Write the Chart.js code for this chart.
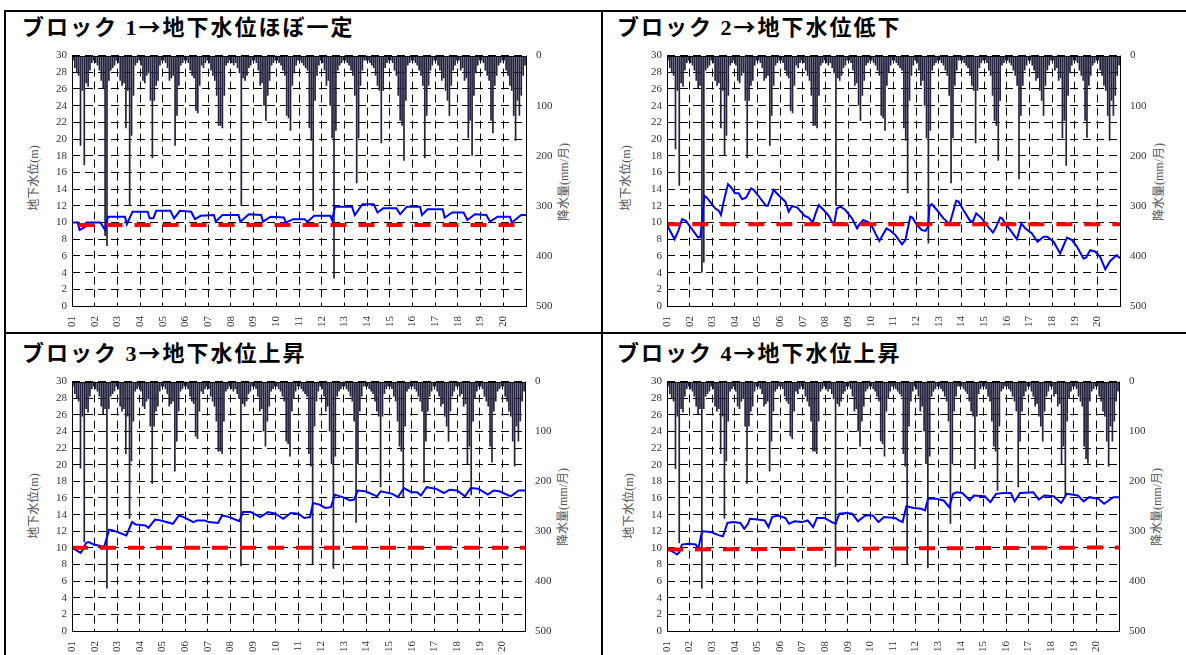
<!DOCTYPE html>
<html>
<head>
<meta charset="utf-8">
<script src="https://cdn.jsdelivr.net/npm/chart.js@4.4.1/dist/chart.umd.min.js"></script>
<style>
  html, body { margin: 0; padding: 0; background: #fff; }
  body { width: 1186px; height: 655px; position: relative; overflow: hidden; }
  .frame { position: absolute; background: #000; }
  .title {
    position: absolute; font-family: "Liberation Serif", "Noto Sans CJK JP", serif;
    font-weight: bold; font-size: 22px; line-height: 22px; letter-spacing: 2px; color: #000; white-space: nowrap;
  }
  .title .ar { font-family: "Noto Sans CJK JP", sans-serif; }
  .ytitle {
    position: absolute; transform: translate(-50%, -50%) rotate(-90deg);
    font-family: "Liberation Serif", "Noto Sans CJK JP", serif; font-size: 12px; color: #555; white-space: nowrap;
  }
  canvas { position: absolute; }
</style>
</head>
<body>

<div class="frame" style="left:4px; top:10px; width:1182px; height:2px;"></div>
<div class="frame" style="left:4px; top:10px; width:2px; height:645px;"></div>
<div class="frame" style="left:601px; top:10px; width:2px; height:645px;"></div>
<div class="frame" style="left:4px; top:332px; width:1182px; height:2px;"></div>

<div class="title" style="left:22px; top:14px;">ブロック 1<span class="ar">→</span>地下水位ほぼ一定</div>
<div class="title" style="left:617px; top:14px;">ブロック 2<span class="ar">→</span>地下水位低下</div>
<div class="title" style="left:22px; top:340px;">ブロック 3<span class="ar">→</span>地下水位上昇</div>
<div class="title" style="left:617px; top:340px;">ブロック 4<span class="ar">→</span>地下水位上昇</div>

<div class="ytitle" style="left:33px; top:178px;">地下水位(m)</div>
<div class="ytitle" style="left:563px; top:182px;">降水量(mm/月)</div>
<div class="ytitle" style="left:625px; top:178px;">地下水位(m)</div>
<div class="ytitle" style="left:1158px; top:182px;">降水量(mm/月)</div>
<div class="ytitle" style="left:33px; top:506px;">地下水位(m)</div>
<div class="ytitle" style="left:562px; top:507px;">降水量(mm/月)</div>
<div class="ytitle" style="left:628px; top:506px;">地下水位(m)</div>
<div class="ytitle" style="left:1156px; top:507px;">降水量(mm/月)</div>

<canvas id="c1" width="585" height="291" style="left:10px; top:39px;"></canvas>
<canvas id="c2" width="580" height="291" style="left:604px; top:39px;"></canvas>
<canvas id="c3" width="585" height="291" style="left:10px; top:365px;"></canvas>
<canvas id="c4" width="580" height="291" style="left:604px; top:365px;"></canvas>

<script>
// --------------------------------------------------
// DATA
// --------------------------------------------------
const yearLabels = ["01","02","03","04","05","06","07","08","09","10",
                    "11","12","13","14","15","16","17","18","19","20"];

// monthly rainfall (mm/month), Jan 2001 .. Dec 2020, block 1
const rainBase = [
  10,25,35,40,180,70,219,55,62,30,15,10,
  15,20,30,50,65,360,380,50,30,25,20,10,
  15,50,60,55,145,70,300,160,80,20,15,10,
  20,50,55,40,35,90,205,90,60,50,20,10,
  10,15,25,50,45,40,180,120,60,20,15,10,
  10,15,30,40,45,110,115,60,20,25,15,10,
  15,30,40,50,80,140,140,145,80,20,15,10,
  15,20,15,25,35,300,45,50,40,25,20,10,
  10,15,30,60,55,100,130,80,50,20,15,10,
  10,15,20,30,40,120,125,150,60,35,20,10,
  10,15,20,25,30,145,170,310,90,40,20,10,
  15,30,60,50,100,165,445,150,30,20,15,10,
  10,15,20,30,40,80,255,165,60,30,10,10,
  10,15,20,25,40,60,70,175,70,25,15,10,
  10,15,30,40,80,130,140,210,90,20,15,10,
  10,15,20,30,40,60,205,120,60,30,20,10,
  10,20,30,50,45,70,90,120,60,30,20,10,
  10,30,25,50,45,165,130,200,80,35,20,10,
  10,15,30,40,50,130,155,60,40,20,15,10,
  10,30,40,60,70,120,170,90,120,80,40,20
];

// months where the other blocks' rain gauges differ: [monthIndex, mm]
const rainFix2 = [[4,187],[6,260],[17,60],[18,433],[19,413],[30,200],[138,375],[127,275],[186,247],[211,220],[222,164]];
const rainFix3 = [[4,174],[6,322],[17,55],[18,415],[19,55],[30,275],[89,370],[127,367],[138,375],[150,283],[163,212],[175,233],[186,203],[211,228],[222,162]];
const rainFix4 = [[4,175],[6,324],[17,55],[18,415],[19,55],[30,275],[89,371],[127,367],[138,374],[150,285],[175,219],[186,212],[211,229],[223,164]];

// groundwater level (m): [month, level] at the turning points of the line
const level1 = [[0,10.0],[3,10.0],[4,9.1],[7,9.5],[8,10.0],[15,10.0],[17.5,9.1],[19,10.7],[28,10.7],[29,9.8],[32,11.3],[40,11.3],[41,10.5],[43,10.5],[44.5,11.4],[52,11.4],[54,10.5],[57,11.4],[63,11.3],[65,10.4],[68,10.8],[75,10.9],[76,10.1],[79.5,10.9],[88,10.9],[89,10.1],[93.5,11.0],[100,10.9],[101,10.1],[105,10.7],[112,10.6],[113,10.0],[117,10.4],[123,10.4],[124.5,10.1],[128,10.8],[136.5,10.8],[137.5,10.3],[139,11.9],[148,11.9],[149.5,10.9],[153.5,12.2],[159.5,12.2],[161.5,11.2],[164.5,11.7],[171.5,11.7],[173.5,11.0],[177,11.9],[184,11.9],[185,10.9],[188,11.6],[196,11.6],[197,10.6],[201,11.2],[207,11.2],[209,10.3],[213,11.0],[219,10.9],[221,10.1],[225,10.7],[231.5,10.7],[232.5,10.0],[237.5,10.9],[240,10.9]];
const level2 = [[0,9.7],[4,8.0],[6,9.0],[8,10.4],[10,10.2],[16.5,8.2],[17.7,8.3],[19.8,13.2],[21,13.0],[25.5,11.7],[27.5,11.4],[28.6,10.9],[30,12.5],[32.3,14.6],[34,14.2],[36,13.5],[38,13.5],[39.8,12.8],[42,13.0],[44.5,14.1],[46,13.9],[52.5,12.0],[53.4,12.0],[56.5,13.9],[59,13.3],[62.7,12.5],[64.5,11.3],[66.3,12.0],[69,11.8],[73,10.8],[75,10.6],[77.2,10.0],[78.6,11.0],[80.4,12.1],[83,11.5],[85.7,10.8],[87.5,10.0],[88.7,10.0],[90,11.7],[92,11.9],[94.5,11.5],[98,10.5],[100.7,9.3],[102,9.8],[104,10.3],[107,10.0],[108.7,9.5],[110.4,8.7],[112.5,7.8],[114.5,8.6],[116.3,9.3],[118.5,9.0],[121,8.5],[124.5,7.4],[126.3,7.9],[128.9,10.7],[130,10.6],[132.4,9.7],[135,9.1],[137,9.0],[138.3,9.5],[139.1,12.0],[140.3,12.2],[143,11.5],[146.5,10.5],[149.2,9.9],[150,10.0],[153.2,12.6],[154.5,12.5],[157,11.5],[160.6,10.2],[162,10.1],[163.8,11.1],[166.8,10.5],[169.4,9.7],[172.7,8.8],[174,9.3],[176.5,10.6],[177.5,10.5],[179.2,9.9],[182.2,9.0],[185.4,8.0],[187.7,9.9],[189.8,9.3],[193.3,8.7],[196.3,7.7],[199.5,8.3],[201.5,8.3],[204.8,7.7],[208.3,6.3],[211.9,8.2],[214.6,7.9],[217.2,7.1],[220.7,5.7],[222,5.8],[224.2,6.7],[227,6.5],[229.5,5.9],[232.2,4.4],[234.8,5.4],[238.3,6.1],[240,5.7]];
const level3 = [[0,10.0],[2.4,9.7],[4.5,9.4],[5.5,9.7],[7.5,10.6],[8.9,10.7],[11.6,10.4],[15.6,10.2],[17,10.1],[19.7,12.2],[21.7,12.1],[28.8,11.5],[31.8,13.1],[33.9,12.8],[38.9,12.7],[40.5,12.4],[44,13.4],[47,13.3],[53.5,12.9],[56.6,13.9],[59.2,13.7],[64.3,13.1],[66.3,13.3],[70.3,13.3],[72.4,13.1],[77.4,13.0],[79.5,13.9],[83.5,13.7],[88.6,13.2],[90.6,14.3],[94.7,14.3],[99.7,13.7],[103.8,14.3],[107.8,14.1],[111.9,13.5],[115.9,14.2],[120,14.1],[123,13.6],[126.1,13.7],[127.7,15.4],[131.1,15.2],[134.2,14.8],[137.2,14.9],[139.3,16.4],[143.3,16.1],[147.4,15.7],[149.4,15.8],[151.4,16.9],[155.5,16.8],[161.6,16.2],[163.6,16.8],[169.7,16.5],[172.7,16.1],[175.8,17.2],[179.8,16.7],[182.8,16.7],[184.9,16.3],[187.9,17.3],[193,17.1],[197,16.6],[200.1,17.0],[204.1,16.9],[208.2,16.2],[211.2,17.2],[215.3,17.1],[220.3,16.4],[223.4,16.9],[226.4,16.8],[232.5,16.2],[236.6,16.9],[240,16.9]];
const level4 = [[0,9.9],[3.4,9.5],[5.3,9.2],[6.7,9.5],[7.9,10.4],[11.3,10.5],[15.2,10.4],[16.6,9.9],[18.6,12.0],[23.2,11.9],[27.7,11.5],[29.7,11.4],[32.1,13.0],[35,13.1],[39,13.0],[41,12.3],[43,12.9],[44,13.5],[47.9,13.4],[51.9,13.3],[53.9,12.5],[55.8,13.7],[58.8,13.9],[62.8,13.6],[64.8,12.9],[67.7,13.2],[71.7,13.1],[74.7,13.3],[77.6,12.5],[79.6,13.6],[83.6,13.6],[87.5,13.1],[89.5,12.9],[91.5,14.1],[95.4,14.2],[98.4,14.1],[101.4,13.2],[105.3,13.9],[109.3,13.9],[112.3,13.1],[115.2,13.7],[121.2,13.6],[123.2,13.3],[125.1,13.1],[127.1,15.0],[131.1,14.8],[135,14.7],[137,14.5],[138.6,15.9],[143,15.9],[146.9,15.7],[149.9,14.9],[151.9,16.5],[153.9,16.7],[156.8,16.6],[160.8,15.7],[162.8,16.3],[168.7,16.2],[171.7,15.5],[174.7,16.5],[178.6,16.6],[182.6,16.6],[184.6,15.6],[187.5,16.6],[194.5,16.7],[197.4,15.8],[200.4,16.3],[205.3,16.2],[209.3,15.4],[212.3,16.5],[218.2,16.3],[221.2,15.6],[224.2,16.1],[229.1,15.9],[232.1,15.3],[237,16.1],[240,16.1]];

// red dashed reference level (m): [start, end]
const ref1 = [9.7, 9.7];
const ref2 = [9.8, 9.8];
const ref3 = [10.0, 10.0];
const ref4 = [9.8, 10.05];

// --------------------------------------------------
// BUILD ONE PANEL
// --------------------------------------------------
function withFixes(base, fixes) {
  const out = base.slice();
  fixes.forEach(([i, v]) => { out[i] = v; });
  return out;
}

const frameBox = {
  id: "frameBox",
  afterDraw(chart) {
    const { ctx, chartArea: a } = chart;
    ctx.save();
    ctx.strokeStyle = "#000";
    ctx.lineWidth = 1;
    ctx.strokeRect(Math.round(a.left) + 0.5, Math.round(a.top) + 0.5,
                   Math.round(a.right - a.left), Math.round(a.bottom - a.top));
    ctx.restore();
  }
};

const tickFont = { family: "'Liberation Serif', serif", size: 11 };

function makePanel(id, rain, level, ref, dashOffset, leftW, rightW, bottomH) {
  new Chart(document.getElementById(id), {
    type: "bar",
    data: {
      datasets: [
        {
          type: "line",
          data: [{ x: 0, y: ref[0] }, { x: 240, y: ref[1] }],
          borderColor: "#ff0000",
          borderWidth: 4,
          borderDash: [16, 12],
          borderDashOffset: dashOffset,
          pointRadius: 0,
          yAxisID: "y",
          order: 0
        },
        {
          type: "line",
          data: level.map(([x, y]) => ({ x, y })),
          borderColor: "#0000ff",
          borderWidth: 2,
          pointRadius: 0,
          tension: 0,
          yAxisID: "y",
          order: 1
        },
        {
          type: "bar",
          data: rain.map((v, i) => ({ x: i + 0.5, y: v })),
          backgroundColor: "#23233f",
          barPercentage: 0.9,
          categoryPercentage: 1,
          yAxisID: "yR",
          order: 2
        }
      ]
    },
    options: {
      responsive: false,
      animation: false,
      layout: { padding: { top: 4, left: 0, right: 0, bottom: 0 } },
      plugins: { legend: { display: false }, tooltip: { enabled: false } },
      scales: {
        x: {
          type: "linear",
          min: 0, max: 240,
          offset: false,
          grid: { color: "#000", lineWidth: 1, drawTicks: false, offset: false },
          border: { display: false, dash: [8, 5] },
          ticks: {
            stepSize: 12, autoSkip: false, maxRotation: 90, minRotation: 90, padding: 10,
            color: "#333", font: tickFont,
            callback: v => (v < 240 ? yearLabels[v / 12] : "")
          },
          afterFit: s => { s.height = bottomH; }
        },
        y: {
          position: "left",
          min: 0, max: 30,
          grid: { color: "#000", lineWidth: 1, drawTicks: false },
          border: { display: false, dash: [8, 5] },
          ticks: { stepSize: 2, autoSkip: false, padding: 5, color: "#333", font: tickFont },
          afterFit: s => { s.width = leftW; }
        },
        yR: {
          position: "right",
          min: 0, max: 500,
          reverse: true,
          grid: { drawOnChartArea: false, drawTicks: false },
          border: { display: false },
          ticks: { stepSize: 100, autoSkip: false, padding: 10, color: "#333", font: tickFont },
          afterFit: s => { s.width = rightW; }
        }
      }
    },
    plugins: [frameBox]
  });
}

makePanel("c1", rainBase, level1, ref1, 21.5, 62, 69, 24);
makePanel("c2", withFixes(rainBase, rainFix2), level2, ref2, 2.7, 63, 64, 24);
makePanel("c3", withFixes(rainBase, rainFix3), level3, ref3, 0, 62, 70, 25);
makePanel("c4", withFixes(rainBase, rainFix4), level4, ref4, 0, 63, 65, 25);
</script>
</body>
</html>
